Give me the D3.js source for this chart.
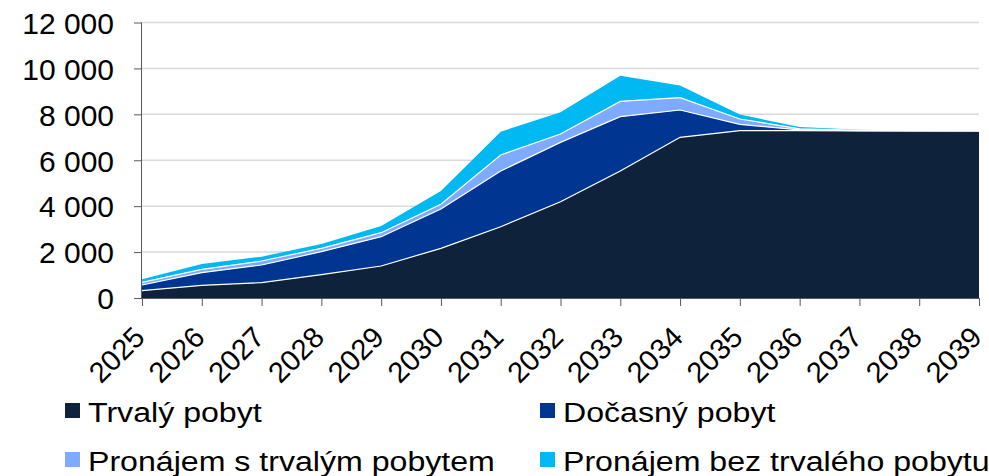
<!DOCTYPE html>
<html>
<head>
<meta charset="utf-8">
<script src="https://cdn.jsdelivr.net/npm/d3@7"></script>
<style>
  body { margin: 0; background: #fff; }
  text { font-family: "Liberation Sans", Arial, sans-serif; fill: #000; }
</style>
</head>
<body>
<div id="chart"></div>
<script>
// Stacked area: housing by residence type

var years = [2025, 2026, 2027, 2028, 2029, 2030, 2031, 2032, 2033, 2034, 2035, 2036, 2037, 2038, 2039];
var trvaly = [318, 553, 667, 1016, 1394, 2163, 3106, 4195, 5531, 6998, 7290, 7290, 7280, 7280, 7280];
var docasny = [248, 549, 770, 1002, 1276, 1713, 2425, 2585, 2366, 1190, 276, 30, 10, 0, 0];
var pronajemS = [118, 148, 174, 146, 175, 204, 697, 363, 668, 536, 232, 50, 10, 5, 0];
var pronajemBez = [131, 230, 189, 186, 290, 580, 1017, 947, 1115, 536, 190, 80, 30, 5, 0];
var seriesNames = ["Trvalý pobyt", "Dočasný pobyt", "Pronájem s trvalým pobytem", "Pronájem bez trvalého pobytu"];
var colors = ["#0e233b", "#003591", "#7eabff", "#00b9f2"];
var yTicks = [0, 2000, 4000, 6000, 8000, 10000, 12000];

var svgWidth = 989;
var svgHeight = 476;
var margin = { top: 22.5, right: 10, bottom: 178, left: 142 };
var width = 979 - margin.left;
var height = 298 - margin.top;

var svg = d3.select("#chart")
  .append("svg")
  .attr("width", svgWidth)
  .attr("height", svgHeight);

var g = svg.append("g")
  .attr("transform", `translate(${margin.left},${margin.top})`);

var keys = ["trvaly", "docasny", "pronajemS", "pronajemBez"];
var data = years.map((y, i) => ({
  year: y,
  trvaly: trvaly[i],
  docasny: docasny[i],
  pronajemS: pronajemS[i],
  pronajemBez: pronajemBez[i]
}));

var xScale = d3.scaleLinear()
  .domain([years[0], years[years.length - 1]])
  .range([0, width]);

var yScale = d3.scaleLinear()
  .domain([0, 12000])
  .range([height, 0]);

// gridlines
g.selectAll(".grid")
  .data(yTicks.slice(1))
  .enter()
  .append("line")
  .attr("x1", 0)
  .attr("x2", width)
  .attr("y1", d => yScale(d))
  .attr("y2", d => yScale(d))
  .attr("stroke", "#d9d9d9")
  .attr("stroke-width", 1.5);

var stacked = d3.stack().keys(keys)(data);

var area = d3.area()
  .x(d => xScale(d.data.year))
  .y0(d => yScale(d[0]))
  .y1(d => yScale(d[1]));

var topLine = d3.line()
  .x(d => xScale(d.data.year))
  .y(d => yScale(d[1]));

g.selectAll(".layer")
  .data(stacked)
  .enter()
  .append("path")
  .attr("d", area)
  .attr("fill", (d, i) => colors[i]);

g.selectAll(".sep")
  .data(stacked.slice(0, 3))
  .enter()
  .append("path")
  .attr("d", topLine)
  .attr("fill", "none")
  .attr("stroke", "#fff")
  .attr("stroke-width", 1.2);

// axes
var leftAxis = d3.axisLeft(yScale)
  .tickValues(yTicks)
  .tickSize(8)
  .tickPadding(20)
  .tickFormat(d => d3.format(",")(d).replace(/,/g, " "));

var yAxis = g.append("g").call(leftAxis);
yAxis.select(".domain").attr("stroke", "#595959").attr("d", `M-0.5,${height}V0`);
yAxis.selectAll(".tick line").attr("stroke", "#595959");
yAxis.selectAll("text")
  .style("font-size", "30px")
  .attr("dy", "0.36em");

var bottomAxis = d3.axisBottom(xScale)
  .tickValues(years)
  .tickSize(8)
  .tickFormat(d3.format("d"));

var xAxis = g.append("g")
  .attr("transform", `translate(0, ${height})`)
  .call(bottomAxis);
xAxis.select(".domain").attr("stroke", "#595959").attr("d", `M0,0.5H${width}`);
xAxis.selectAll(".tick line").attr("stroke", "#595959");
xAxis.selectAll("text")
  .style("font-size", "29px")
  .style("text-anchor", "end")
  .attr("dy", 0)
  .attr("y", 0)
  .attr("transform", "translate(4,41) rotate(-45)");

// legend
var legendPos = [[65, 403], [540, 403], [65, 452], [540, 452]];
var legend = svg.selectAll(".legend")
  .data(seriesNames)
  .enter()
  .append("g")
  .attr("transform", (d, i) => `translate(${legendPos[i][0]},${legendPos[i][1]})`);

legend.append("rect")
  .attr("width", 15)
  .attr("height", 15)
  .attr("fill", (d, i) => colors[i]);

legend.append("text")
  .attr("transform", "translate(23,18.5) scale(1.19,1)")
  .style("font-size", "27px")
  .text(d => d);
</script>
</body>
</html>
